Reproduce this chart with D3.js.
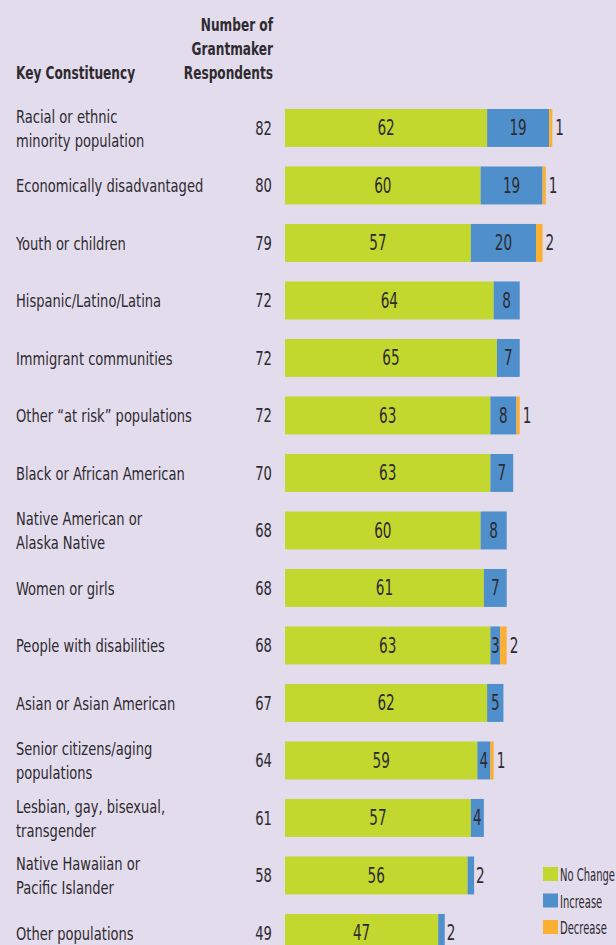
<!DOCTYPE html>
<html lang="en">
<head>
  <meta charset="UTF-8">
  <title>Key Constituency changes</title>
  <style>
    body { margin: 0; background: #e3dcec; }
    svg { display: block; font-family: "DejaVu Sans Condensed", "DejaVu Sans", sans-serif; }
    .txt { fill: #2e2b30; }
  </style>
</head>
<body>
  <div id="chart"></div>
  <script src="https://d3js.org/d3.v7.min.js"></script>
  <script>
    const categories = [
      ['Racial or ethnic', 'minority population'],
      ['Economically disadvantaged'],
      ['Youth or children'],
      ['Hispanic/Latino/Latina'],
      ['Immigrant communities'],
      ['Other \u201cat risk\u201d populations'],
      ['Black or African American'],
      ['Native American or', 'Alaska Native'],
      ['Women or girls'],
      ['People with disabilities'],
      ['Asian or Asian American'],
      ['Senior citizens/aging', 'populations'],
      ['Lesbian, gay, bisexual,', 'transgender'],
      ['Native Hawaiian or', 'Pacific Islander'],
      ['Other populations']
    ];
    const respondents = [82, 80, 79, 72, 72, 72, 70, 68, 68, 68, 67, 64, 61, 58, 49];
    const noChange = [62, 60, 57, 64, 65, 63, 63, 60, 61, 63, 62, 59, 57, 56, 47];
    const increase = [19, 19, 20, 8, 7, 8, 7, 8, 7, 3, 5, 4, 4, 2, 2];
    const decrease = [1, 1, 2, 0, 0, 1, 0, 0, 0, 2, 0, 1, 0, 0, 0];
    const seriesNames = ['No Change', 'Increase', 'Decrease'];
    const colors = ['#c3d82e', '#4f8fcc', '#fbb034'];

    const width = 616, height = 945;
    const svg = d3.select('#chart').append('svg')
      .attr('width', width).attr('height', height);

    // the original face is a condensed Futura, so squeeze our text horizontally
    function squeeze(sel, f) {
      sel.each(function () {
        const w = this.getComputedTextLength();
        d3.select(this).attr('textLength', w * f).attr('lengthAdjust', 'spacingAndGlyphs');
      });
    }

    const rows = categories.map((c, i) => ({
      i, label: c, n: respondents[i],
      vals: [noChange[i], increase[i], decrease[i]]
    }));

    const y = d3.scaleBand()
      .domain(rows.map(d => d.i))
      .range([99.2, 961.7])
      .paddingInner(0.34)
      .paddingOuter(0.17);

    const x = d3.scaleLinear().domain([0, 100]).range([285, 611]);

    // header
    svg.append('text').attr('class', 'txt head')
      .attr('x', 16).attr('y', 79)
      .attr('font-size', 18).attr('font-weight', 'bold')
      .text('Key Constituency');
    ['Number of', 'Grantmaker', 'Respondents'].forEach((t, k) => {
      svg.append('text').attr('class', 'txt head')
        .attr('x', 273).attr('y', 31 + k * 23.8)
        .attr('text-anchor', 'end')
        .attr('font-size', 18).attr('font-weight', 'bold')
        .text(t);
    });
    squeeze(svg.selectAll('.head'), 0.75);

    const g = svg.selectAll('.row').data(rows).enter().append('g')
      .attr('class', 'row');

    // category labels
    g.each(function (d) {
      const cy = y(d.i) + y.bandwidth() / 2;
      const lines = d.label;
      const lh = 24;
      const y0 = cy - (lines.length - 1) * lh / 2 + 7;
      lines.forEach((t, k) => {
        d3.select(this).append('text').attr('class', 'txt cat')
          .attr('x', 16).attr('y', y0 + k * lh)
          .attr('font-size', 17.5)
          .text(t);
      });
    });
    squeeze(svg.selectAll('.cat'), 0.83);

    // respondent counts
    g.append('text').attr('class', 'txt cnt')
      .attr('x', 272)
      .attr('y', d => y(d.i) + y.bandwidth() / 2 + 7)
      .attr('text-anchor', 'end')
      .attr('font-size', 19)
      .text(d => d.n);
    squeeze(svg.selectAll('.cnt'), 0.77);

    // stacked segments
    g.each(function (d) {
      let acc = 0;
      const sel = d3.select(this);
      d.vals.forEach((v, k) => {
        const x0 = acc, x1 = acc + v;
        acc = x1;
        if (v <= 0) return;
        sel.append('rect')
          .attr('x', x(x0))
          .attr('y', y(d.i))
          .attr('width', x(x1) - x(x0))
          .attr('height', y.bandwidth())
          .attr('fill', colors[k]);
      });
      const cy = y(d.i) + y.bandwidth() / 2 + 7.5;
      const total = d3.sum(d.vals);
      sel.append('text').attr('class', 'txt val')
        .attr('x', x(d.vals[0] / 2)).attr('y', cy)
        .attr('text-anchor', 'middle').attr('font-size', 21)
        .text(d.vals[0]);
      if (d.vals[1] >= 3) {
        sel.append('text').attr('class', 'txt val')
          .attr('x', x(d.vals[0] + d.vals[1] / 2)).attr('y', cy)
          .attr('text-anchor', 'middle').attr('font-size', 21)
          .text(d.vals[1]);
      } else if (d.vals[1] > 0) {
        sel.append('text').attr('class', 'txt val')
          .attr('x', x(d.vals[0] + d.vals[1]) + 2).attr('y', cy)
          .attr('font-size', 21)
          .text(d.vals[1]);
      }
      if (d.vals[2] > 0) {
        sel.append('text').attr('class', 'txt val')
          .attr('x', x(total) + 3).attr('y', cy)
          .attr('font-size', 21)
          .text(d.vals[2]);
      }
    });
    squeeze(svg.selectAll('.val'), 0.72);

    // legend
    const lg = svg.append('g');
    seriesNames.forEach((s, k) => {
      lg.append('rect')
        .attr('x', 543).attr('y', 867 + k * 26.5)
        .attr('width', 15).attr('height', 14)
        .attr('fill', colors[k]);
      lg.append('text').attr('class', 'txt')
        .attr('transform', `translate(560, ${881 + k * 26.5}) scale(0.6, 1)`)
        .attr('font-size', 18.5)
        .text(s);
    });
  </script>
</body>
</html>
